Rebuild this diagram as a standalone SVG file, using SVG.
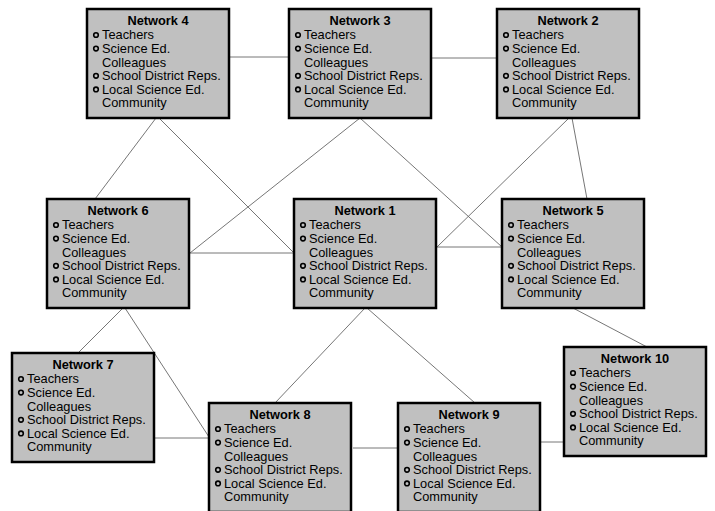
<svg xmlns="http://www.w3.org/2000/svg" width="715" height="511" viewBox="0 0 715 511">
<style>
.bg{fill:#ffffff}
.box{fill:#c0c0c0;stroke:#000;stroke-width:2.5}
.ttl{font-family:"Liberation Sans",Arial,sans-serif;font-weight:bold;font-size:12.8px;text-anchor:middle;fill:#000}
.it{font-family:"Liberation Sans",Arial,sans-serif;font-size:12.8px;fill:#000}
.bul{fill:#c0c0c0;stroke:#000;stroke-width:1.6}
.edges line{stroke:#666;stroke-width:0.9}
</style>
<defs>
<g id="card">
<rect class="box" x="0" y="0" width="142" height="109"/>
<circle class="bul" cx="9" cy="26" r="2.3"/>
<circle class="bul" cx="9" cy="39.6" r="2.3"/>
<circle class="bul" cx="9" cy="66.8" r="2.3"/>
<circle class="bul" cx="9" cy="80.4" r="2.3"/>
<text class="it" x="15" y="30.3">Teachers</text>
<text class="it" x="15" y="43.9">Science Ed.</text>
<text class="it" x="15" y="57.5">Colleagues</text>
<text class="it" x="15" y="71.1">School District Reps.</text>
<text class="it" x="15" y="84.7">Local Science Ed.</text>
<text class="it" x="15" y="98.3">Community</text>
</g>
</defs>
<rect class="bg" x="0" y="0" width="715" height="511"/>
<g class="edges" id="connectors">
<line x1="229" y1="57" x2="289" y2="57"/>
<line x1="431" y1="58" x2="497" y2="58"/>
<line x1="156" y1="118" x2="95" y2="199"/>
<line x1="159" y1="118" x2="294" y2="253"/>
<line x1="360" y1="118" x2="190" y2="253"/>
<line x1="360" y1="118" x2="502" y2="247"/>
<line x1="569" y1="118" x2="437" y2="247"/>
<line x1="572" y1="118" x2="587" y2="199"/>
<line x1="189" y1="253" x2="294" y2="253"/>
<line x1="436" y1="247" x2="502" y2="247"/>
<line x1="123" y1="308" x2="78" y2="353"/>
<line x1="125" y1="308" x2="209" y2="437"/>
<line x1="154" y1="438" x2="209" y2="438"/>
<line x1="365" y1="308" x2="275" y2="403"/>
<line x1="367" y1="308" x2="475" y2="403"/>
<line x1="573" y1="308" x2="647" y2="347"/>
<line x1="353" y1="448" x2="398" y2="448"/>
<line x1="540" y1="442" x2="564" y2="442"/>
</g>
<g id="network4" transform="translate(87,9)"><use href="#card"/><text class="ttl" x="71" y="16">Network 4</text></g>
<g id="network3" transform="translate(289,9)"><use href="#card"/><text class="ttl" x="71" y="16">Network 3</text></g>
<g id="network2" transform="translate(497,9)"><use href="#card"/><text class="ttl" x="71" y="16">Network 2</text></g>
<g id="network6" transform="translate(47,199)"><use href="#card"/><text class="ttl" x="71" y="16">Network 6</text></g>
<g id="network1" transform="translate(294,199)"><use href="#card"/><text class="ttl" x="71" y="16">Network 1</text></g>
<g id="network5" transform="translate(502,199)"><use href="#card"/><text class="ttl" x="71" y="16">Network 5</text></g>
<g id="network7" transform="translate(12,353)"><use href="#card"/><text class="ttl" x="71" y="16">Network 7</text></g>
<g id="network8" transform="translate(209,403)"><use href="#card"/><text class="ttl" x="71" y="16">Network 8</text></g>
<g id="network9" transform="translate(398,403)"><use href="#card"/><text class="ttl" x="71" y="16">Network 9</text></g>
<g id="network10" transform="translate(564,347)"><use href="#card"/><text class="ttl" x="71" y="16">Network 10</text></g>
</svg>
